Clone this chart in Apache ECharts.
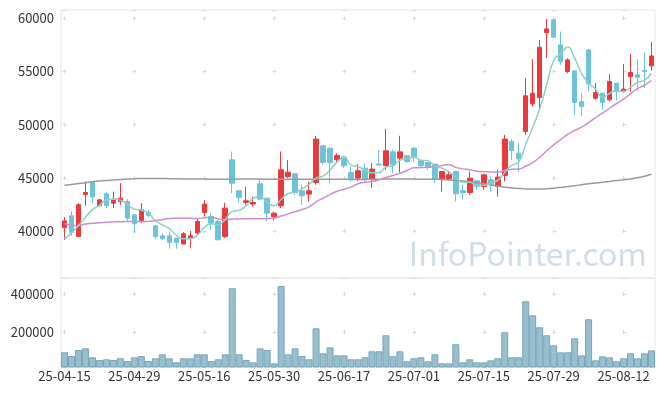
<!DOCTYPE html>
<html>
<head>
<meta charset="utf-8">
<script src="https://cdn.jsdelivr.net/npm/echarts@6/dist/echarts.min.js"></script>
<style>
html,body{margin:0;padding:0;background:#fff;}
#chart{width:665px;height:396px;}
</style>
</head>
<body>
<div id="chart"></div>
<script>
const dates = ['25-04-15','25-04-16','25-04-17','25-04-18','25-04-21','25-04-22','25-04-23','25-04-24','25-04-25','25-04-28',
'25-04-29','25-04-30','25-05-02','25-05-07','25-05-08','25-05-09','25-05-12','25-05-13','25-05-14','25-05-15',
'25-05-16','25-05-19','25-05-20','25-05-21','25-05-22','25-05-23','25-05-26','25-05-27','25-05-28','25-05-29',
'25-05-30','25-06-02','25-06-04','25-06-05','25-06-09','25-06-10','25-06-11','25-06-12','25-06-13','25-06-16',
'25-06-17','25-06-18','25-06-19','25-06-20','25-06-23','25-06-24','25-06-25','25-06-26','25-06-27','25-06-30',
'25-07-01','25-07-02','25-07-03','25-07-04','25-07-07','25-07-08','25-07-09','25-07-10','25-07-11','25-07-14',
'25-07-15','25-07-16','25-07-17','25-07-18','25-07-21','25-07-22','25-07-23','25-07-24','25-07-25','25-07-28',
'25-07-29','25-07-30','25-07-31','25-08-01','25-08-04','25-08-05','25-08-06','25-08-07','25-08-08','25-08-11',
'25-08-12','25-08-13','25-08-14','25-08-18','25-08-19'];

const openP = [40320,41430,39480,43430,44560,42400,43500,42620,42770,42770,
41520,40990,41740,40490,39550,39550,39330,38770,39330,39800,
41740,41360,40890,39480,46690,43780,42680,42530,44440,43090,
41360,42370,45120,45380,43780,43470,44560,48010,47790,46700,
46950,45500,44970,45910,44880,46290,46160,47440,46850,47070,
47790,46600,46440,46290,44880,44880,45590,43810,43620,44720,
44180,44810,44180,45220,48410,47320,49350,51960,52550,58650,
59850,57500,55000,55060,52170,57030,52490,52960,52330,53900,
53110,54520,54680,55090,55530];

const closeP = [40950,39850,42460,43620,43190,42930,42400,42870,43090,41210,
40680,41990,41460,39480,39270,38920,38920,39740,39550,40890,
42530,40740,39170,42150,44500,43150,42840,42680,43000,41680,
41680,45750,45530,43620,43310,43780,48640,46440,46440,47100,
46130,44880,45660,44880,45820,46200,47540,46220,47440,46530,
46950,46160,46000,44880,45590,45280,43500,43620,44970,44180,
45280,44340,45070,48640,47570,46790,52710,52960,57280,59000,
58220,55930,56090,52080,51700,53830,53020,52080,54050,53110,
53340,54900,54460,54990,56460];

const lowP = [39150,39550,39480,42370,42620,42300,42150,42150,42460,40960,
39800,40740,41300,39240,39150,38330,38330,38770,38380,39710,
41360,40110,39170,39330,43560,42680,42460,42300,42930,40890,
40990,42150,44970,43400,42460,42770,44340,46220,44500,46500,
45900,44650,44700,44650,44030,46200,45750,45440,45500,46380,
46530,46000,45750,44500,43710,44800,42770,42930,43400,43870,
43870,43710,43240,44650,46690,45540,49040,51700,51460,56250,
58200,55620,54840,50920,50830,53110,52330,51390,52170,52270,
53020,53110,53200,53430,55090];

const highP = [41300,41850,42620,44650,44650,43000,43710,43710,44500,43000,
41520,42620,42000,40490,39800,39950,39330,39900,40000,41120,
42930,41680,41050,42660,47470,43780,44180,43240,44970,43090,
41830,47470,46690,45380,44340,44650,48950,48010,47790,47300,
47100,46000,46300,46380,46380,47630,49580,47630,48950,47070,
47890,46700,46440,46290,45590,45590,45590,44340,45590,44720,
45380,45120,45750,49040,48640,48320,54370,56150,57970,59920,
59950,58750,56250,55060,52960,57030,53900,52960,54770,53900,
55710,56650,56150,56780,57750];

const volumes = [93000,73700,105300,114000,66800,52600,56300,52600,61600,47400,
66800,73700,47400,61600,82600,61600,40500,61600,61600,82600,
82600,47400,56300,82600,430000,82600,52600,40500,114000,105300,
35000,442000,82600,114000,73700,56300,219500,87700,119500,77200,
77200,56300,56300,66800,98400,98400,182600,72100,98400,45800,
61600,66800,45800,82600,35000,35000,135300,40500,56300,40500,
40500,50900,61600,198400,66800,66800,361600,287900,224700,182600,
130000,93000,93000,166800,77200,266800,50900,72100,66800,45800,
61600,87700,61600,87700,103200];

const ma5 = [39250,39800,40500,41300,42014,42410,42920,43002,42896,42500,
42050,41968,41686,40964,40576,40224,39610,39266,39280,39604,
40326,40690,40576,41096,41818,41942,42362,43064,43234,42670,
42376,42958,43528,43652,43978,44398,44976,45158,45722,46480,
46950,46198,46042,45730,45474,45488,46020,46132,46644,46786,
46936,46660,46616,46104,45916,45582,45050,44574,44592,44310,
44310,44478,44768,45502,46180,46482,48156,49734,51462,53748,
56034,56678,57304,56264,54804,53926,53344,52542,52936,53218,
53120,53496,53972,54160,54830];

const ma20 = [40700,40550,40520,40650,40720,40780,40820,40850,40880,40890,
40890,40890,40900,40980,41080,41180,41200,41210,41200,41174,
41253,41297,41133,41059,41125,41136,41158,41148,41144,41167,
41217,41405,41609,41816,42018,42261,42747,43082,43426,43737,
43917,44124,44448,44585,44651,44803,45038,45215,45437,45680,
45943,45964,45987,46050,46164,46239,45982,45841,45768,45622,
45579,45552,45523,45711,45798,45828,46086,46423,46915,47539,
48102,48591,49095,49455,49761,50188,50664,51087,51541,51988,
52391,52919,53388,53706,54150];

const maLong = [44300,44380,44460,44540,44620,44690,44750,44800,44850,44890,
44920,44930,44940,44940,44930,44920,44910,44900,44890,44880,
44880,44870,44860,44860,44870,44880,44880,44880,44880,44870,
44860,44860,44860,44860,44860,44860,44870,44870,44870,44870,
44860,44850,44850,44850,44860,44870,44880,44880,44880,44880,
44880,44870,44870,44860,44840,44800,44760,44710,44640,44560,
44450,44330,44220,44120,44050,44000,43960,43940,43950,43980,
44030,44100,44180,44260,44350,44440,44510,44580,44660,44740,
44810,44900,45010,45150,45330];

const priceMin = 35580, priceMax = 60780, priceTickStep = 5000;
const volMin = 15800, volMax = 484000, volTickStep = 200000;
const labelEvery = 10;
const watermark = 'InfoPointer.com';

const FONT = '"Noto Sans CJK KR", "Noto Sans", sans-serif';
const UP = '#eb3a3d', DOWN = '#6cc4da';
const GRID_LINE = '#e6e6e6', CROSS = '#d9d9d9';

// half-step helper axis so crosses sit at category centres
const halfSteps = new Array(dates.length * 2 + 1).fill('');

const chart = echarts.init(document.getElementById('chart'), null, {renderer: 'canvas'});

const hiddenCat = (grid, dash, offset) => ({
  type: 'category', gridIndex: grid, data: halfSteps, boundaryGap: false,
  axisLine: {show: false}, axisTick: {show: false}, axisLabel: {show: false},
  splitLine: {show: true, interval: (i) => (i - 1) % (labelEvery * 2) === 0,
    lineStyle: {color: CROSS, width: 1, type: dash, dashOffset: offset}}
});

chart.setOption({
  animation: false,
  backgroundColor: '#ffffff',
  textStyle: {fontFamily: FONT},
  grid: [
    {left: 61, top: 10, width: 594, height: 268, show: true, borderColor: GRID_LINE, borderWidth: 1},
    {left: 61, top: 278, width: 594, height: 89, show: true, borderColor: GRID_LINE, borderWidth: 1}
  ],
  graphic: [{
    type: 'text', x: 647, y: 254, z: 0, silent: true,
    style: {text: watermark, fill: '#cfdfe7', font: '32px "Noto Sans CJK KR", sans-serif',
      align: 'right', verticalAlign: 'middle'}
  }],
  xAxis: [
    {type: 'category', gridIndex: 0, data: dates, boundaryGap: true,
      axisLine: {show: false}, axisTick: {show: false}, axisLabel: {show: false}, splitLine: {show: false}},
    {type: 'category', gridIndex: 1, data: dates, boundaryGap: true,
      axisLine: {show: false}, axisTick: {show: false}, splitLine: {show: false},
      axisLabel: {interval: labelEvery - 1, color: '#333', fontSize: 13, fontFamily: FONT, margin: 3}},
    hiddenCat(0, [4, 49.175], 46.875),
    hiddenCat(1, [4, 34.02], 24.05)
  ],
  yAxis: [
    {type: 'value', gridIndex: 0, min: priceMin, max: priceMax, splitNumber: 5,
      axisLine: {show: false}, axisTick: {show: false},
      axisLabel: {color: '#333', fontSize: 13, fontFamily: FONT, margin: 7,
        formatter: v => (v % priceTickStep === 0 ? String(v) : '')},
      splitLine: {show: true, lineStyle: {color: CROSS, width: 1, type: [4, 66], dashOffset: 68.5}}},
    {type: 'value', gridIndex: 1, min: volMin, max: volMax, splitNumber: 2,
      axisLine: {show: false}, axisTick: {show: false},
      axisLabel: {color: '#333', fontSize: 13, fontFamily: FONT, margin: 7,
        formatter: v => (v % volTickStep === 0 ? String(v) : '')},
      splitLine: {show: true, lineStyle: {color: CROSS, width: 1, type: [4, 66], dashOffset: 68.5}}}
  ],
  series: [
    {type: 'candlestick', xAxisIndex: 0, yAxisIndex: 0, barWidth: 5,
      data: dates.map((d, i) => [openP[i], closeP[i], lowP[i], highP[i]]),
      itemStyle: {color: UP, color0: DOWN, borderColor: UP, borderColor0: DOWN, borderWidth: 1}},
    {type: 'line', name: 'MA120', xAxisIndex: 0, yAxisIndex: 0, data: maLong, smooth: true,
      symbol: 'none', lineStyle: {color: '#9a9a9a', width: 1.5}},
    {type: 'line', name: 'MA20', xAxisIndex: 0, yAxisIndex: 0, data: ma20, smooth: true,
      symbol: 'none', lineStyle: {color: '#cc8fcc', width: 1.5}},
    {type: 'line', name: 'MA5', xAxisIndex: 0, yAxisIndex: 0, data: ma5, smooth: true,
      symbol: 'none', lineStyle: {color: '#8ecfc6', width: 1.5}},
    {type: 'bar', xAxisIndex: 1, yAxisIndex: 1, data: volumes, barCategoryGap: '0%',
      itemStyle: {color: '#98bfce', borderColor: '#78a5b9', borderWidth: 1}}
  ]
});
</script>
</body>
</html>
